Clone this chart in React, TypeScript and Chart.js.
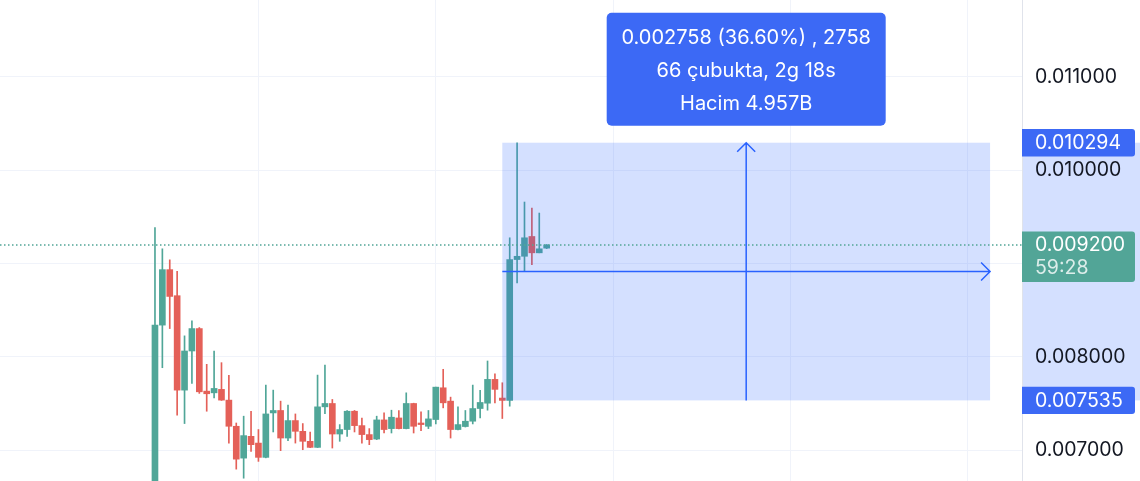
import React, { useEffect, useRef } from 'react';
import { Chart, registerables } from 'chart.js';

Chart.register(...registerables);

// ---- data (hourly candles) ----
const opens = [
  0.00655, 0.008341, 0.008935, 0.008656, 0.007645, 0.008064, 0.008304, 0.007634, 0.007616, 0.007653,
  0.007538, 0.007258, 0.006917, 0.00715, 0.007078, 0.006925, 0.007401, 0.007427, 0.007132, 0.007319,
  0.007204, 0.007097, 0.007032, 0.007466, 0.007502, 0.007175, 0.007223, 0.007419, 0.007265, 0.007169,
  0.007121, 0.007326, 0.007233, 0.007347, 0.007233, 0.007502, 0.007293, 0.007258, 0.00733, 0.00767,
  0.007527, 0.007223, 0.007255, 0.007312, 0.007448, 0.007505, 0.00776, 0.00756, 0.007535, 0.009043,
  0.009078, 0.00929, 0.009115, 0.009165,
];
const highs = [
  0.009384, 0.009158, 0.00904, 0.008917, 0.008226, 0.008387, 0.008315, 0.007921, 0.008064, 0.007939,
  0.007803, 0.007293, 0.007366, 0.007419, 0.007223, 0.007699, 0.007645, 0.007527, 0.007484, 0.00739,
  0.007287, 0.007197, 0.007806, 0.007914, 0.007545, 0.007276, 0.007427, 0.007427, 0.007347, 0.007233,
  0.007366, 0.007401, 0.00743, 0.007427, 0.007616, 0.007505, 0.007412, 0.007427, 0.007677, 0.007868,
  0.00757, 0.007466, 0.007427, 0.007699, 0.007642, 0.007957, 0.00782, 0.007724, 0.009276, 0.010294,
  0.009659, 0.009595, 0.009541, 0.009204,
];
const lows = [
  0.0065, 0.007885, 0.008304, 0.007376, 0.007287, 0.007717, 0.00761, 0.007419, 0.007562, 0.007535,
  0.007078, 0.006799, 0.006702, 0.006989, 0.006882, 0.00692, 0.007197, 0.006997, 0.007104, 0.007078,
  0.007007, 0.00703, 0.00703, 0.007394, 0.007025, 0.007097, 0.00715, 0.007197, 0.007078, 0.007061,
  0.007115, 0.007186, 0.007186, 0.00723, 0.00723, 0.007186, 0.007212, 0.007233, 0.007283, 0.007455,
  0.007132, 0.00722, 0.00725, 0.007283, 0.007347, 0.00743, 0.007509, 0.007341, 0.007473, 0.008792,
  0.008914, 0.008989, 0.009115, 0.00916,
];
const closes = [
  0.008341, 0.008935, 0.008648, 0.007645, 0.008064, 0.008304, 0.007627, 0.007606, 0.007663, 0.007538,
  0.007258, 0.006906, 0.007158, 0.007061, 0.006925, 0.00739, 0.007427, 0.007132, 0.007319, 0.007204,
  0.007097, 0.007032, 0.007466, 0.007502, 0.007175, 0.007223, 0.007419, 0.007265, 0.007169, 0.007115,
  0.007326, 0.007223, 0.007355, 0.007233, 0.007502, 0.007258, 0.007276, 0.007337, 0.007677, 0.007509,
  0.007223, 0.007276, 0.007312, 0.007448, 0.007513, 0.00776, 0.007653, 0.007535, 0.009043, 0.009078,
  0.009276, 0.009115, 0.009158, 0.0092,
];

const priceTicks = [0.007, 0.008, 0.009, 0.01, 0.011];
const dayGridIndices = [14, 38, 62, 86, 110];
const currentPrice = 0.0092;
const countdown = '59:28';

const measureStart = 47;
const measureBars = 66;
const measureLow = 0.007535;
const measureHigh = 0.010294;
const measureLines = ['0.002758 (36.60%) , 2758', '66 çubukta, 2g 18s', 'Hacim 4.957B'];

const xMin = -20.97;
const xMax = 117.32;
const yMin = 0.006672;
const yMax = 0.011822;

// ---- styles ----
const UP = '#50a698';
const DOWN = '#e46058';
const PRICE_GREEN = '#52a597';
const BLUE = '#2962ff';
const BOX_BLUE = '#3c69f5';
const BAND = 'rgba(41, 98, 255, 0.2)';
const FONT = 'Inter, "Noto Sans", sans-serif';
const AXIS_SIZE = 19.5;
const BOX_SIZE = 20;

const measurePlugin = {
  id: 'measurePlugin',
  beforeDraw(chart: any) {
    const { ctx, chartArea, scales } = chart;
    const y = scales.y;
    const top = y.getPixelForValue(measureHigh);
    const bot = y.getPixelForValue(measureLow);
    ctx.save();
    ctx.fillStyle = BAND;
    ctx.fillRect(chartArea.right, top, chart.width - chartArea.right, bot - top);
    ctx.restore();
  },
  afterDatasetsDraw(chart: any) {
    const { ctx, chartArea, scales } = chart;
    const x = scales.x;
    const y = scales.y;
    const x0 = x.getPixelForValue(measureStart);
    const x1 = x.getPixelForValue(measureStart + measureBars);
    const top = y.getPixelForValue(measureHigh);
    const bot = y.getPixelForValue(measureLow);
    const midX = (x0 + x1) / 2;
    const midY = (top + bot) / 2;
    ctx.save();
    ctx.fillStyle = BAND;
    ctx.fillRect(x0, top, x1 - x0, bot - top);

    // current price dotted line
    const py = y.getPixelForValue(currentPrice);
    ctx.strokeStyle = PRICE_GREEN;
    ctx.lineWidth = 1.5;
    ctx.setLineDash([1.5, 2.5]);
    ctx.beginPath();
    ctx.moveTo(chartArea.left, py);
    ctx.lineTo(chartArea.right, py);
    ctx.stroke();
    ctx.setLineDash([]);

    // arrows
    ctx.strokeStyle = BLUE;
    ctx.lineWidth = 1.5;
    ctx.beginPath();
    ctx.moveTo(x0, midY);
    ctx.lineTo(x1, midY);
    ctx.moveTo(x1 - 9, midY - 9);
    ctx.lineTo(x1, midY);
    ctx.lineTo(x1 - 9, midY + 9);
    ctx.moveTo(midX, bot);
    ctx.lineTo(midX, top);
    ctx.moveTo(midX - 9, top + 9);
    ctx.lineTo(midX, top);
    ctx.lineTo(midX + 9, top + 9);
    ctx.stroke();
    ctx.restore();
  },
  afterDraw(chart: any) {
    const { ctx, chartArea, scales } = chart;
    const x = scales.x;
    const y = scales.y;
    const x0 = x.getPixelForValue(measureStart);
    const x1 = x.getPixelForValue(measureStart + measureBars);
    const midX = (x0 + x1) / 2;
    const top = y.getPixelForValue(measureHigh);
    const bot = y.getPixelForValue(measureLow);

    ctx.save();
    // tooltip box
    const bw = 279;
    const bh = 113;
    const bx = midX - bw / 2;
    const by = top - 17 - bh;
    ctx.fillStyle = BOX_BLUE;
    ctx.beginPath();
    ctx.roundRect(bx, by, bw, bh, 5);
    ctx.fill();
    ctx.fillStyle = '#ffffff';
    ctx.font = `${BOX_SIZE}px ${FONT}`;
    ctx.textAlign = 'center';
    ctx.textBaseline = 'middle';
    measureLines.forEach((t, i) => {
      ctx.fillText(t, midX, by + 25.5 + i * 33);
    });

    // axis labels
    ctx.font = `${AXIS_SIZE}px ${FONT}`;
    const ax = chartArea.right;
    const aw = 113;
    const tx = ax + 13;
    ctx.textAlign = 'left';
    const blueLabel = (v: number, yy: number) => {
      ctx.fillStyle = BOX_BLUE;
      ctx.beginPath();
      ctx.roundRect(ax, yy - 13.7, aw, 27.4, [0, 3, 3, 0]);
      ctx.fill();
      ctx.fillStyle = '#ffffff';
      ctx.fillText(v.toFixed(6), tx, yy + 0.5);
    };
    blueLabel(measureHigh, top);
    blueLabel(measureLow, bot);

    const py = y.getPixelForValue(currentPrice);
    ctx.fillStyle = PRICE_GREEN;
    ctx.beginPath();
    ctx.roundRect(ax, py - 13.5, aw, 50.7, [0, 3, 3, 0]);
    ctx.fill();
    ctx.fillStyle = '#ffffff';
    ctx.fillText(currentPrice.toFixed(6), tx, py + 0.5);
    ctx.fillStyle = 'rgba(255,255,255,0.8)';
    ctx.fillText(countdown, tx, py + 23);
    ctx.restore();
  },
};

export default function App() {
  const ref = useRef<HTMLCanvasElement | null>(null);

  useEffect(() => {
    document.body.style.margin = '0';
    const canvas = ref.current;
    if (!canvas) return;
    const colors = opens.map((o, i) => (closes[i] >= o ? UP : DOWN));
    const chart = new Chart(canvas, {
      type: 'bar',
      data: {
        datasets: [
          {
            data: opens.map((o, i) => ({ x: i, y: [o, closes[i]] })) as any,
            backgroundColor: colors,
            barThickness: 6,
            minBarLength: 1,
            grouped: false,
          } as any,
          {
            data: lows.map((l, i) => ({ x: i, y: [l, highs[i]] })) as any,
            backgroundColor: colors,
            barThickness: 1,
            grouped: false,
          } as any,
        ],
      },
      options: {
        animation: false,
        responsive: false,
        events: [],
        layout: { padding: 0 },
        plugins: { legend: { display: false }, tooltip: { enabled: false } },
        scales: {
          x: {
            type: 'linear',
            min: xMin,
            max: xMax,
            offset: false,
            ticks: { display: false },
            grid: { color: '#f0f3fa', drawTicks: false, offset: false },
            border: { display: false },
            afterBuildTicks: (s: any) => {
              s.ticks = dayGridIndices.map((v) => ({ value: v }));
            },
            afterFit: (s: any) => {
              s.height = 0;
              s.paddingLeft = 0;
              s.paddingRight = 0;
              s.paddingTop = 0;
              s.paddingBottom = 0;
            },
          },
          y: {
            type: 'linear',
            position: 'right',
            min: yMin,
            max: yMax,
            afterBuildTicks: (s: any) => {
              s.ticks = priceTicks.map((v) => ({ value: v }));
            },
            afterFit: (s: any) => {
              s.width = 118;
              s.paddingTop = 0;
              s.paddingBottom = 0;
              s.paddingLeft = 0;
              s.paddingRight = 0;
            },
            ticks: {
              padding: 13,
              color: '#131722',
              font: { family: FONT, size: AXIS_SIZE },
              callback: (v: any) => Number(v).toFixed(6),
            },
            grid: { color: '#f0f3fa', drawTicks: false },
            border: { display: true, color: '#e0e3eb' },
          },
        },
      } as any,
      plugins: [measurePlugin],
    });
    return () => chart.destroy();
  }, []);

  return (
    <div style={{ width: 1140, height: 481 }}>
      <canvas ref={ref} width={1140} height={481} style={{ display: 'block' }} />
    </div>
  );
}
